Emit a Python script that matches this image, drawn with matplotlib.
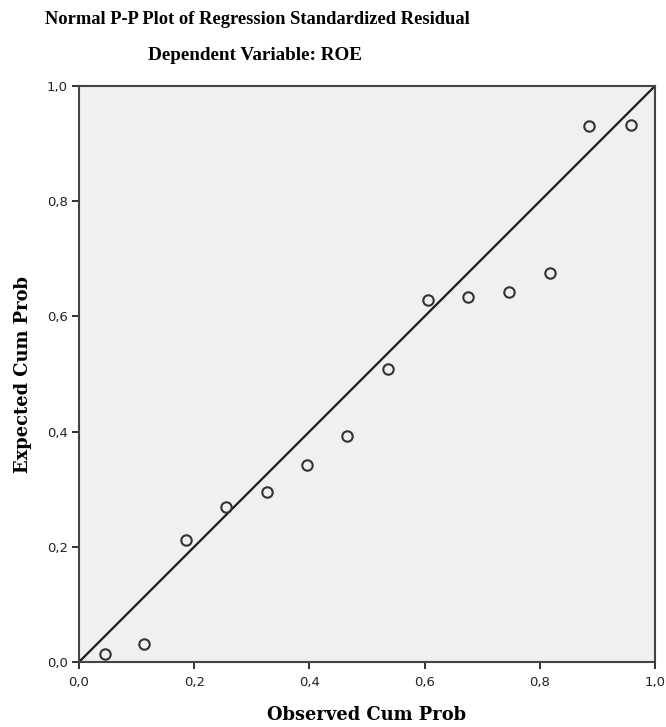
import matplotlib.pyplot as plt

# observed vs expected cumulative probabilities
observed = [0.045, 0.113, 0.185, 0.255, 0.326, 0.395, 0.466,
            0.536, 0.606, 0.676, 0.747, 0.817, 0.886, 0.958]
expected = [0.014, 0.031, 0.212, 0.269, 0.295, 0.342, 0.393,
            0.509, 0.628, 0.633, 0.643, 0.675, 0.931, 0.932]
ticks = [0.0, 0.2, 0.4, 0.6, 0.8, 1.0]
tick_labels = ['0,0', '0,2', '0,4', '0,6', '0,8', '1,0']

title_font = 'Liberation Serif'
label_font = 'DejaVu Serif'

fig = plt.figure(figsize=(6.66, 7.27), dpi=100)
ax = fig.add_axes([0.1186, 0.0894, 0.8649, 0.7923])
ax.set_facecolor('#f0f0f0')

# reference diagonal
ax.plot([0, 1], [0, 1], color='#1a1a1a', linewidth=1.6, zorder=2)
ax.plot(observed, expected, linestyle='none', marker='o', markersize=7.5,
        markerfacecolor='none', markeredgecolor='#333333',
        markeredgewidth=1.5, zorder=3)

ax.set_xlim(0, 1)
ax.set_ylim(0, 1)
ax.set_xticks(ticks)
ax.set_xticklabels(tick_labels)
ax.set_yticks(ticks)
ax.set_yticklabels(tick_labels)
ax.tick_params(direction='out', length=5, width=1.3, color='#222222',
               labelsize=9.5, labelcolor='#222222', pad=3)
ax.tick_params(axis='x', pad=5)
for s in ax.spines.values():
    s.set_linewidth(1.5)
    s.set_color('#444444')

ax.set_xlabel('Observed Cum Prob', fontfamily=label_font, fontweight='bold',
              fontsize=12.9, labelpad=12)
ax.set_ylabel('Expected Cum Prob', fontfamily=label_font, fontweight='bold',
              fontsize=12.9, labelpad=11)

fig.text(0.386, 1 - 20 / 727, 'Normal P-P Plot of Regression Standardized Residual',
         ha='center', va='center', fontfamily=title_font, fontweight='bold', fontsize=13.3)
fig.text(0.383, 1 - 55 / 727, 'Dependent Variable: ROE',
         ha='center', va='center', fontfamily=title_font, fontweight='bold', fontsize=13.8)

fig.savefig('out.png', dpi=100)
